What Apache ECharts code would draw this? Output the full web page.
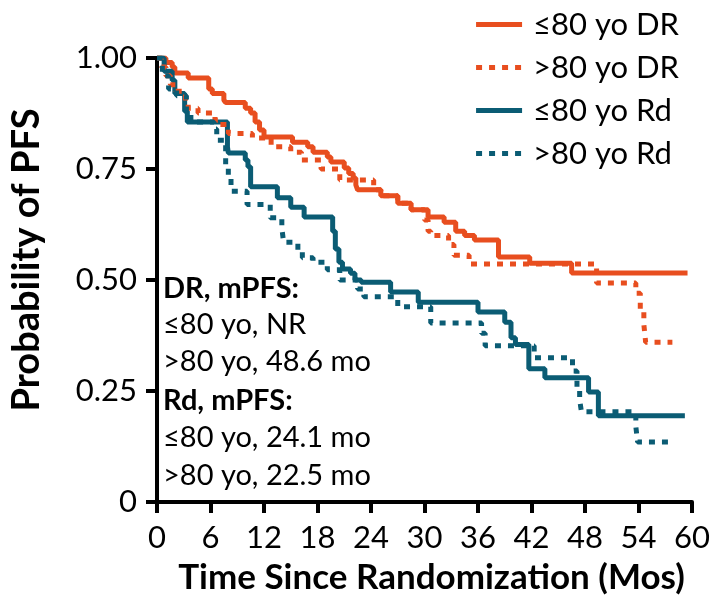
<!DOCTYPE html>
<html><head><meta charset="utf-8">
<script src="https://cdn.jsdelivr.net/npm/echarts@6/dist/echarts.min.js"></script>
<style>html,body{margin:0;padding:0;background:#fff}#c{width:718px;height:600px}</style>
</head><body><div id="c"></div>
<script>
const xTicks = [0, 6, 12, 18, 24, 30, 36, 42, 48, 54, 60];
const yTicks = [0, 0.25, 0.5, 0.75, 1.0];
const seriesNames = ['≤80 yo DR', '>80 yo DR', '≤80 yo Rd', '>80 yo Rd'];
const notes = ['DR, mPFS:', '≤80 yo, NR', '>80 yo, 48.6 mo', 'Rd, mPFS:', '≤80 yo, 24.1 mo', '>80 yo, 22.5 mo'];

const le80DR_t = [0, 1.0, 1.7, 2.0, 3.5, 5.8, 6.2, 7.5, 7.7, 9.9, 10.5, 11.0, 11.5, 12.0, 15.2, 16.9, 17.5, 19.1, 19.5, 21.0, 21.5, 22.0, 22.3, 22.5, 25.1, 27.0, 28.5, 30.4, 32.2, 33.5, 34.5, 35.6, 38.3, 41.8, 46.5, 59.5];
const le80DR_s = [1.0, 0.99, 0.98, 0.966, 0.955, 0.93, 0.92, 0.905, 0.90, 0.887, 0.876, 0.856, 0.838, 0.822, 0.81, 0.80, 0.788, 0.777, 0.766, 0.752, 0.74, 0.73, 0.714, 0.703, 0.69, 0.673, 0.658, 0.642, 0.63, 0.61, 0.60, 0.59, 0.552, 0.538, 0.516, 0.516];

const gt80DR_t = [0, 0.5, 1.0, 1.5, 2.1, 3.2, 3.5, 4.6, 6.5, 7.0, 8.0, 10.7, 12.8, 15.0, 16.2, 18.4, 20.5, 24.3, 25.1, 27.0, 28.5, 30.0, 30.4, 30.7, 32.7, 33.3, 35.0, 49.3, 53.7, 54.2, 54.6, 54.8, 57.8];
const gt80DR_s = [1.0, 0.98, 0.96, 0.94, 0.925, 0.90, 0.887, 0.876, 0.86, 0.85, 0.83, 0.82, 0.80, 0.788, 0.77, 0.75, 0.725, 0.703, 0.69, 0.673, 0.658, 0.635, 0.61, 0.60, 0.58, 0.556, 0.536, 0.493, 0.47, 0.43, 0.40, 0.36, 0.36];

const le80Rd_t = [0, 0.8, 1.7, 2.0, 3.1, 3.4, 7.9, 8.0, 9.9, 10.2, 10.5, 13.5, 15.0, 16.5, 19.7, 20.0, 20.4, 20.8, 21.7, 22.2, 22.9, 26.2, 29.3, 36.0, 39.0, 39.7, 40.2, 41.7, 43.5, 48.4, 49.5, 59.2];
const le80Rd_s = [1.0, 0.97, 0.95, 0.92, 0.88, 0.856, 0.80, 0.786, 0.77, 0.755, 0.71, 0.685, 0.664, 0.642, 0.61, 0.57, 0.54, 0.525, 0.515, 0.50, 0.495, 0.473, 0.45, 0.428, 0.405, 0.37, 0.355, 0.30, 0.28, 0.248, 0.194, 0.194];

const gt80Rd_t = [0, 0.6, 1.3, 2.2, 3.3, 3.8, 6.4, 6.7, 7.7, 8.0, 8.3, 10.1, 12.7, 14.0, 14.2, 15.8, 16.3, 17.5, 19.1, 20.5, 22.5, 23.2, 27.0, 30.7, 36.4, 36.8, 42.3, 46.6, 47.1, 47.4, 47.6, 53.7, 53.9, 58.0];
const gt80Rd_s = [1.0, 0.96, 0.93, 0.915, 0.88, 0.856, 0.84, 0.815, 0.76, 0.73, 0.70, 0.67, 0.64, 0.617, 0.585, 0.567, 0.55, 0.54, 0.523, 0.50, 0.48, 0.462, 0.44, 0.403, 0.38, 0.352, 0.325, 0.295, 0.25, 0.23, 0.203, 0.17, 0.135, 0.135];

const ORANGE = '#E84E1F';
const TEAL = '#0B5C74';
const FONT = 'Lato, "Open Sans", sans-serif';

function pairs(t, s) { return t.map((v, i) => [v, s[i]]); }

function mk(name, t, s, color, dotted) {
  return {
    name: name, type: 'line', step: 'end', symbol: 'none', z: dotted ? 3 : 2,
    data: pairs(t, s),
    lineStyle: { color: color, width: 5, type: dotted ? [6, 7] : 'solid', cap: 'butt' },
    itemStyle: { color: color }
  };
}

const chart = echarts.init(document.getElementById('c'), null, { renderer: 'canvas' });
const noteY = [289, 325, 362, 401, 438, 476];
const noteBold = [true, false, false, true, false, false];
const graphics = notes.map((t, i) => ({
  type: 'text', x: 163, y: noteY[i],
  style: { text: t, fontFamily: FONT, fontSize: 29, fontWeight: noteBold[i] ? 'bold' : 'normal', fill: '#000', verticalAlign: 'middle', textVerticalAlign: 'middle' }
}));

chart.setOption({
  animation: false,
  backgroundColor: '#fff',
  grid: { left: 157, right: 26, top: 58, bottom: 98 },
  legend: {
    orient: 'vertical', right: 34, top: 4, itemGap: 12, itemWidth: 46, itemHeight: 16,
    itemStyle: { opacity: 0 },
    lineStyle: { width: 5 },
    textStyle: { fontFamily: FONT, fontSize: 31, color: '#000', padding: [0, 0, 0, 6] },
    data: seriesNames
  },
  xAxis: {
    type: 'value', min: 0, max: 60, interval: 6,
    name: 'Time Since Randomization (Mos)', nameLocation: 'middle', nameGap: 58,
    nameTextStyle: { fontFamily: FONT, fontSize: 35, fontWeight: 'bold', color: '#000', padding: [0, 0, 0, 14] },
    axisLine: { lineStyle: { color: '#000', width: 4 } },
    axisTick: { show: true, inside: false, length: 11, lineStyle: { color: '#000', width: 4 } },
    axisLabel: { fontFamily: FONT, fontSize: 31, color: '#000', margin: 20, formatter: v => xTicks.includes(v) ? String(v) : '' },
    splitLine: { show: false }
  },
  yAxis: {
    type: 'value', min: 0, max: 1, interval: 0.25,
    name: 'Probability of PFS', nameLocation: 'middle', nameGap: 111,
    nameTextStyle: { fontFamily: FONT, fontSize: 38, fontWeight: 'bold', color: '#000', padding: [0, 0, 0, 40] },
    axisLine: { show: true, lineStyle: { color: '#000', width: 4 } },
    axisTick: { show: true, inside: false, length: 11, lineStyle: { color: '#000', width: 4 } },
    axisLabel: { fontFamily: FONT, fontSize: 31, color: '#000', margin: 20, formatter: v => yTicks.includes(v) ? (v === 0 ? '0' : v.toFixed(2)) : '' },
    splitLine: { show: false }
  },
  graphic: graphics,
  series: [
    mk(seriesNames[0], le80DR_t, le80DR_s, ORANGE, false),
    mk(seriesNames[1], gt80DR_t, gt80DR_s, ORANGE, true),
    mk(seriesNames[2], le80Rd_t, le80Rd_s, TEAL, false),
    mk(seriesNames[3], gt80Rd_t, gt80Rd_s, TEAL, true)
  ]
});
</script></body></html>
